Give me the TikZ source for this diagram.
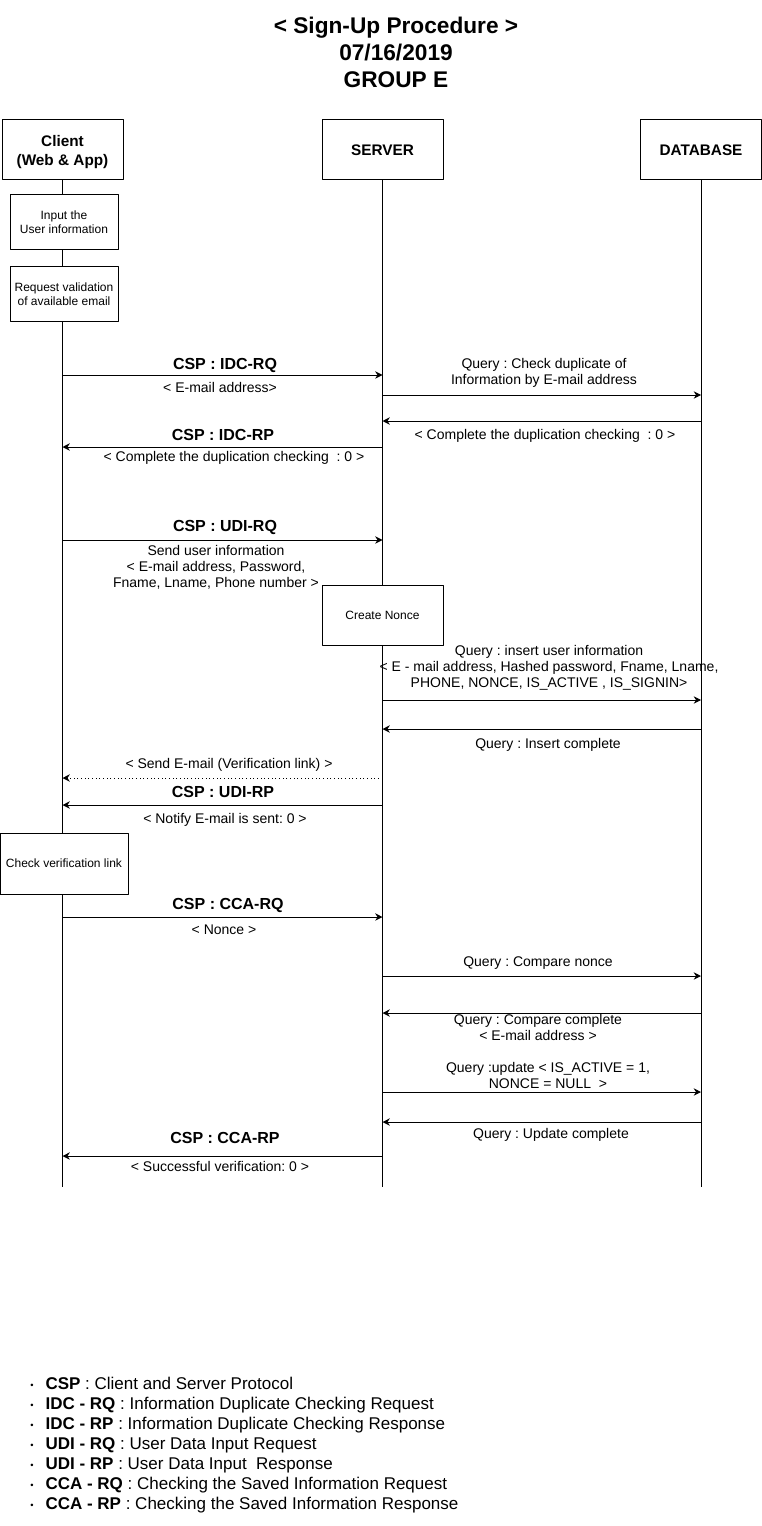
\documentclass[tikz,border=0pt]{standalone}
\usepackage{fontspec}
\setmainfont{Liberation Sans}
\usetikzlibrary{arrows.meta}
\frenchspacing

\begin{document}
\begin{tikzpicture}[x=0.75pt, y=-0.75pt, >={Stealth[length=5.5pt,width=5.5pt,inset=1.8pt]}, line join=round,
    head/.style={draw, fill=white, line width=0.75pt, minimum width=90.75pt, minimum height=45pt, text depth=0pt, align=center, font=\fontsize{11.5}{14.25}\selectfont\bfseries},
    act/.style={draw, fill=white, line width=0.75pt, minimum width=81pt, minimum height=41.25pt, align=center, font=\fontsize{9}{10.5}\selectfont},
    msg/.style={->, line width=0.75pt},
    csplabel/.style={font=\fontsize{12}{14}\selectfont\bfseries},
    txt/.style={align=center, font=\fontsize{10.5}{12}\selectfont}]
    \useasboundingbox (0,0) rectangle (761,1526);
    \node[align=center, font=\fontsize{17}{20.25}\selectfont\bfseries] (title) at (396,52) {< Sign-Up Procedure >\\07/16/2019\\GROUP E};
    \node[head] (client) at (62.5,150) {Client\\(Web \& App)};
    \node[head] (server) at (382.5,150) {SERVER};
    \node[head] (db) at (701,150) {DATABASE};
    \coordinate (clientEnd) at (client |- 0,1187);
    \coordinate (serverEnd) at (server |- 0,1187);
    \coordinate (dbEnd) at (db |- 0,1187);
    \draw[line width=0.75pt] (client) -- (clientEnd);
    \draw[line width=0.75pt] (server) -- (serverEnd);
    \draw[line width=0.75pt] (db) -- (dbEnd);
    \node[act] (input) at (64,222.5) {Input the\\User information};
    \node[act] (reqval) at (64,294.5) {Request validation\\of available email};
    \node[act, minimum width=90.75pt, minimum height=45pt] (nonce) at (382.5,615) {Create Nonce};
    \node[act, minimum width=96pt, minimum height=45.75pt] (check) at (64,863.5) {Check verification link};
    \draw[msg] (client |- 0,375) -- (server |- 0,375);
    \node[csplabel] (idcrq) at (225,365) {CSP : IDC-RQ};
    \node[txt] (idcrqm) at (220,387) {< E-mail address>};
    \draw[msg] (server |- 0,395) -- (db |- 0,395);
    \node[txt] (dupq) at (544,373) {Query : Check duplicate of\\Information by E-mail address};
    \draw[msg] (db |- 0,421) -- (server |- 0,421);
    \node[txt] (dupr) at (545,436) {< Complete the duplication checking~ : 0 >};
    \draw[msg] (server |- 0,447) -- (client |- 0,447);
    \node[csplabel] (idcrp) at (223,435) {CSP : IDC-RP};
    \node[txt] (idcrpm) at (234,458) {< Complete the duplication checking~ : 0 >};
    \draw[msg] (client |- 0,540) -- (server |- 0,540);
    \node[csplabel] (udirq) at (225,527) {CSP : UDI-RQ};
    \node[txt] (udirqm) at (216,567) {Send user information\\< E-mail address, Password,\\Fname, Lname, Phone number >};
    \draw[msg] (server |- 0,700) -- (db |- 0,700);
    \node[txt] (insq) at (549,668) {Query : insert user information\\< E - mail address, Hashed password, Fname, Lname,\\PHONE, NONCE, IS\_ACTIVE , IS\_SIGNIN>};
    \draw[msg] (db |- 0,729) -- (server |- 0,729);
    \node[txt] (insr) at (548,745) {Query : Insert complete};
    \draw[msg, dotted] (server |- 0,778) -- (client |- 0,778);
    \node[txt] (mail) at (229,765) {< Send E-mail (Verification link) >};
    \draw[msg] (server |- 0,805) -- (client |- 0,805);
    \node[csplabel] (udirp) at (223,792) {CSP : UDI-RP};
    \node[txt] (udirpm) at (225,820) {< Notify E-mail is sent: 0 >};
    \draw[msg] (client |- 0,917) -- (server |- 0,917);
    \node[csplabel] (ccarq) at (228,905) {CSP : CCA-RQ};
    \node[txt] (ccarqm) at (224,930) {< Nonce >};
    \draw[msg] (server |- 0,976) -- (db |- 0,976);
    \node[txt] (cmpq) at (538,963) {Query : Compare nonce};
    \draw[msg] (db |- 0,1013) -- (server |- 0,1013);
    \node[txt] (cmpr) at (538,1027) {Query : Compare complete\\< E-mail address >};
    \draw[msg] (server |- 0,1092) -- (db |- 0,1092);
    \node[txt] (updq) at (548,1075) {Query :update < IS\_ACTIVE = 1,\\NONCE = NULL~ >};
    \draw[msg] (db |- 0,1122) -- (server |- 0,1122);
    \node[txt] (updr) at (551,1135) {Query : Update complete};
    \draw[msg] (server |- 0,1156) -- (client |- 0,1156);
    \node[csplabel] (ccarp) at (225,1138) {CSP : CCA-RP};
    \node[txt] (ccarpm) at (220,1166) {< Successful verification: 0 >};
    \node[anchor=north west, inner sep=0pt, align=left, font=\fontsize{12.75}{15}\selectfont] (legend) at (30,1377) {%
      \raisebox{0.8pt}{\scriptsize\textbullet}\hspace{9pt}\textbf{CSP} : Client and Server Protocol\\
      \raisebox{0.8pt}{\scriptsize\textbullet}\hspace{9pt}\textbf{IDC - RQ} : Information Duplicate Checking Request\\
      \raisebox{0.8pt}{\scriptsize\textbullet}\hspace{9pt}\textbf{IDC - RP} : Information Duplicate Checking Response\\
      \raisebox{0.8pt}{\scriptsize\textbullet}\hspace{9pt}\textbf{UDI - RQ} : User Data Input Request\\
      \raisebox{0.8pt}{\scriptsize\textbullet}\hspace{9pt}\textbf{UDI - RP} : User Data Input~ Response\\
      \raisebox{0.8pt}{\scriptsize\textbullet}\hspace{9pt}\textbf{CCA - RQ} : Checking the Saved Information Request\\
      \raisebox{0.8pt}{\scriptsize\textbullet}\hspace{9pt}\textbf{CCA - RP} : Checking the Saved Information Response};
  \end{tikzpicture}
\end{document}
